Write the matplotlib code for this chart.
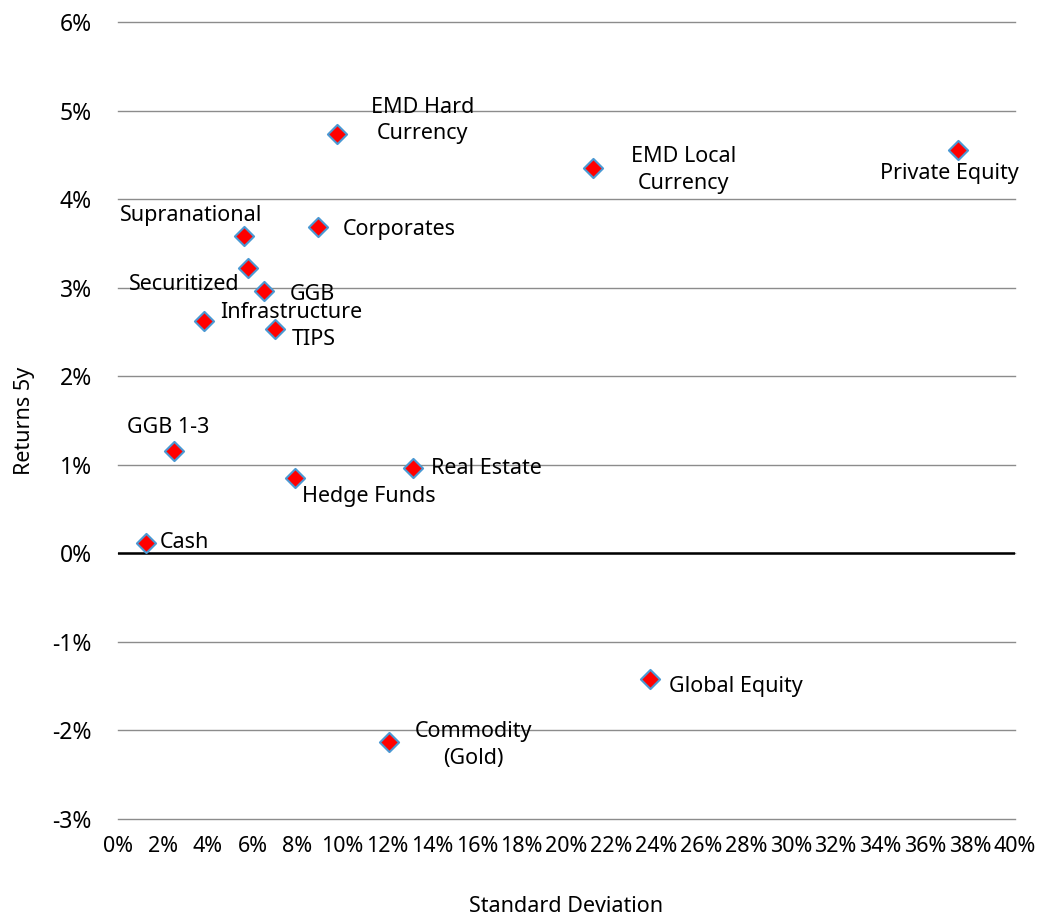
import numpy as np
import matplotlib.pyplot as plt
from matplotlib.ticker import PercentFormatter, MultipleLocator

plt.rcParams['font.family'] = ['Noto Sans', 'DejaVu Sans']
plt.rcParams['axes.unicode_minus'] = False

names = ["Cash", "GGB 1-3", "Infrastructure", "Supranational", "Securitized",
         "GGB", "TIPS", "Corporates", "EMD Hard\nCurrency", "Hedge Funds",
         "Real Estate", "Commodity\n(Gold)", "EMD Local\nCurrency",
         "Global Equity", "Private Equity"]
std_dev = [1.25, 2.5, 3.85, 5.6, 5.8, 6.5, 7.0, 8.9, 9.75, 7.9, 13.15, 12.1,
           21.2, 23.7, 37.45]
returns = [0.12, 1.15, 2.62, 3.58, 3.22, 2.96, 2.53, 3.69, 4.74, 0.85, 0.96,
           -2.13, 4.35, -1.42, 4.55]

# label offsets in pixels and alignment
offsets = [(14, 0, "left"), (-6, 24, "center"), (16, 9, "left"),
           (-52, 21, "center"), (-9, -16, "right"), (26, -3, "left"),
           (17, -10, "left"), (25, -3, "left"), (86, 13, "center"),
           (7, -18, "left"), (18, 0, "left"), (84, -3, "center"),
           (90, -2, "center"), (19, -7, "left"), (-8, -23, "center")]


def main():
    fig = plt.figure(figsize=(10.5, 9.16), dpi=100)
    ax = fig.add_axes([0.1124, 0.1059, 0.8543, 0.8701])

    ax.set_xlim(0, 40)
    ax.set_ylim(-3, 6)
    ax.yaxis.set_major_locator(MultipleLocator(1))
    ax.xaxis.set_major_locator(MultipleLocator(2))
    ax.yaxis.set_major_formatter(PercentFormatter(decimals=0))
    ax.xaxis.set_major_formatter(PercentFormatter(decimals=0))

    ax.grid(axis="y", color="#8c8c8c", linewidth=1)
    for gl in ax.get_ygridlines():
        gl.set_clip_on(False)
    ax.axhline(0, color="black", linewidth=1.8, zorder=2)
    for s in ax.spines.values():
        s.set_visible(False)
    ax.tick_params(length=0, labelsize=16.5, pad=19)
    ax.tick_params(axis="x", pad=12, labelsize=15.5)

    ax.scatter(std_dev, returns, marker="D", s=95, color="red",
               edgecolor="#4a98d3", linewidth=1.5, zorder=3)

    for name, x, y, (dx, dy, ha) in zip(names, std_dev, returns, offsets):
        ax.annotate(name, (x, y), xytext=(dx, dy), textcoords="offset pixels",
                    ha=ha, va="center", fontsize=15.5, linespacing=1.35,
                    zorder=4)

    ax.set_xlabel("Standard Deviation", fontsize=15.5, labelpad=28)
    ax.set_ylabel("Returns 5y", fontsize=15.5, labelpad=12)

    fig.savefig("out.png", dpi=100)


if __name__ == "__main__":
    main()
